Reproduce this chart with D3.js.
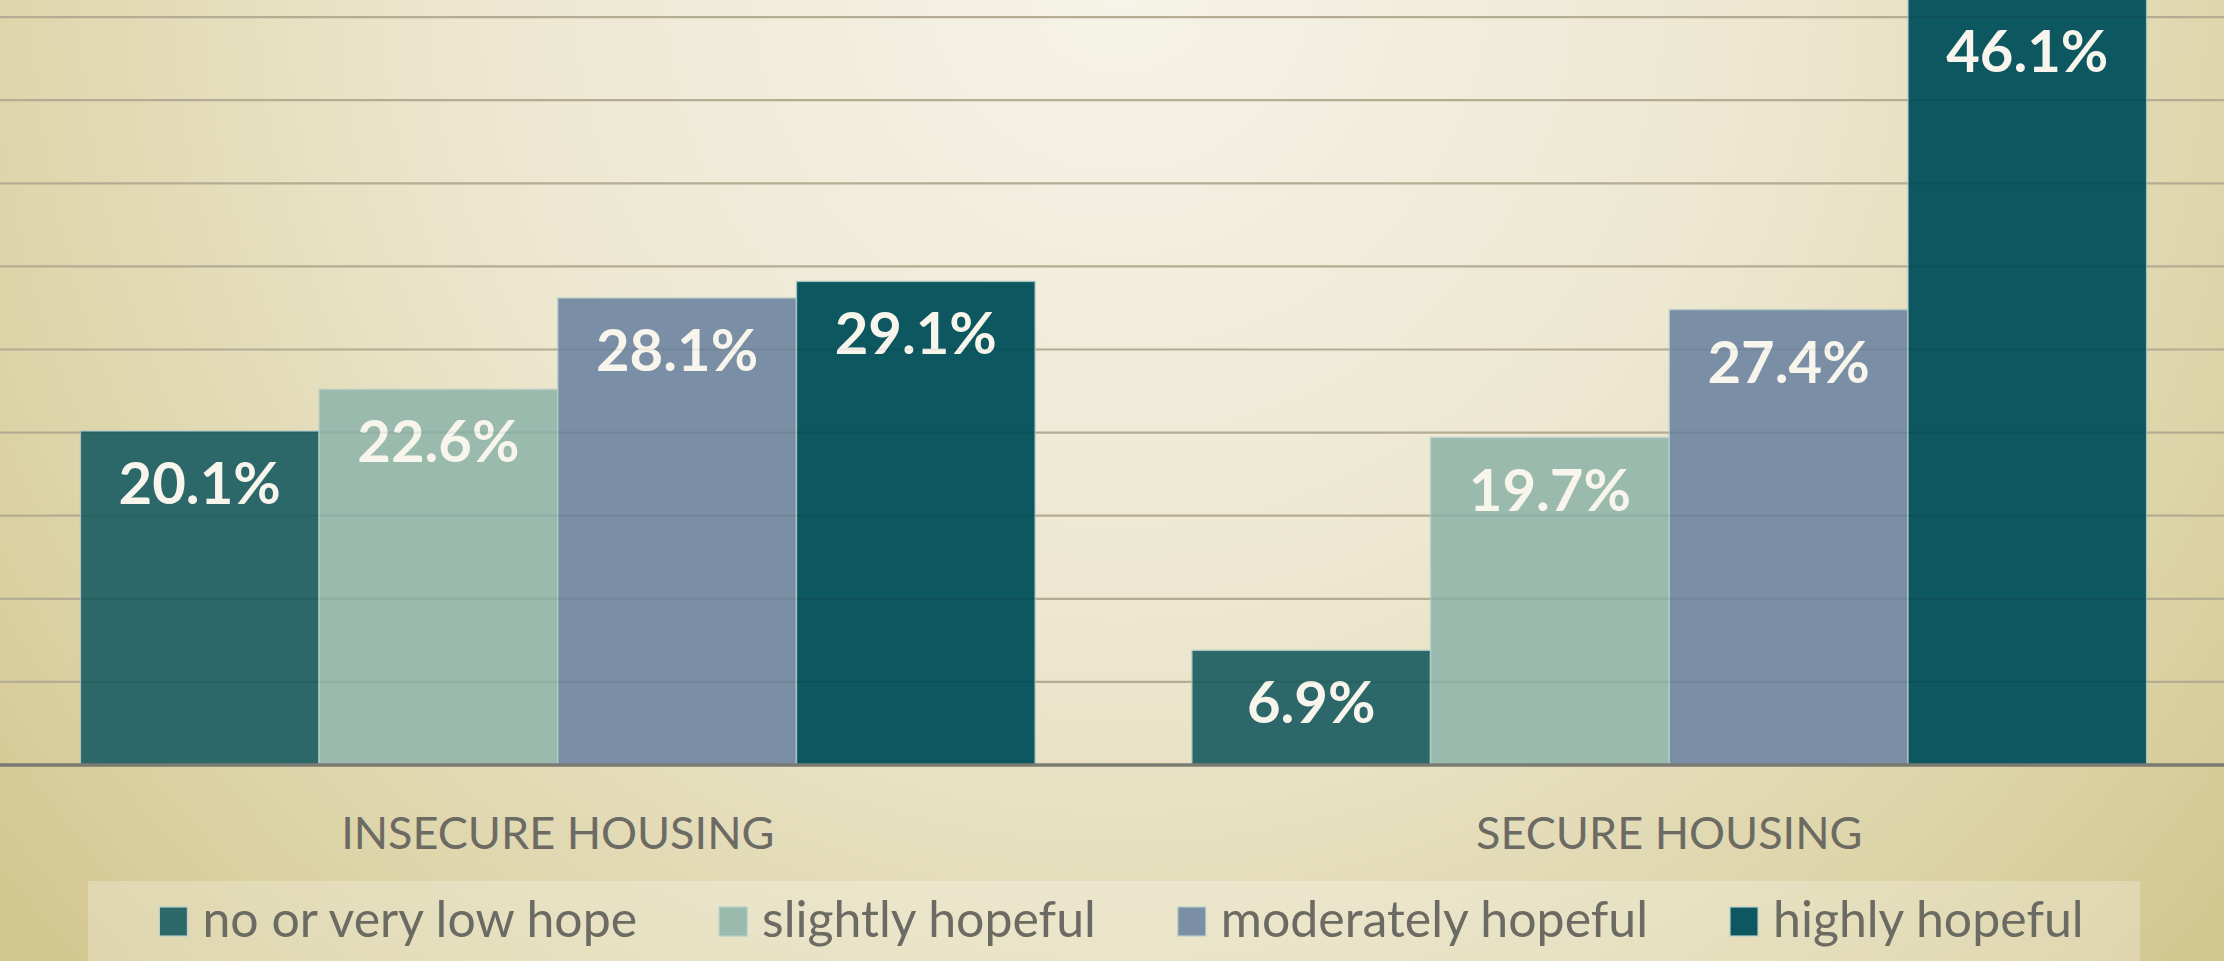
<!DOCTYPE html>
<html>
<head>
<meta charset="utf-8">
<script src="https://cdn.jsdelivr.net/npm/d3@7/dist/d3.min.js"></script>
<style>
  html, body { margin: 0; padding: 0; background: #e8e1c4; }
  svg { display: block; }
</style>
</head>
<body>
<svg id="chart" width="2224" height="961"></svg>
<script>
// ---- data ----
const categories = ["INSECURE HOUSING", "SECURE HOUSING"];
const seriesNames = ["no or very low hope", "slightly hopeful", "moderately hopeful", "highly hopeful"];
const noOrVeryLowHope = [20.1, 6.9];
const slightlyHopeful = [22.6, 19.7];
const moderatelyHopeful = [28.1, 27.4];
const highlyHopeful = [29.1, 46.1];
const gridTicks = [5, 10, 15, 20, 25, 30, 35, 40, 45];

const seriesValues = [noOrVeryLowHope, slightlyHopeful, moderatelyHopeful, highlyHopeful];
const colors = ["#2c6869", "#9abaae", "#7a8ea5", "#0d5760"];

const W = 2224, H = 961;
const svg = d3.select("#chart");

// background gradient
const defs = svg.append("defs");
const rg = defs.append("radialGradient").attr("id", "bg")
  .attr("gradientUnits", "userSpaceOnUse")
  .attr("cx", 1120).attr("cy", -20).attr("r", 1450);
rg.append("stop").attr("offset", 0).attr("stop-color", "#f6f3e8");
rg.append("stop").attr("offset", 0.45).attr("stop-color", "#ede7d0");
rg.append("stop").attr("offset", 0.8).attr("stop-color", "#ddd4a8");
rg.append("stop").attr("offset", 1).attr("stop-color", "#d3c790");
svg.append("rect").attr("width", W).attr("height", H).attr("fill", "url(#bg)");

// scales
const y = d3.scaleLinear().domain([0, 50]).range([765, -66]);
const x0 = d3.scaleBand().domain(categories).range([2, 2225]).paddingInner(0.141).paddingOuter(0.0705);
const x1 = d3.scaleBand().domain(seriesNames).range([0, x0.bandwidth()]).padding(0);

// gridlines
svg.append("g").selectAll("line").data(gridTicks).join("line")
  .attr("x1", 0).attr("x2", W)
  .attr("y1", d => y(d)).attr("y2", d => y(d))
  .attr("stroke", "#c0b89e").attr("stroke-width", 2.2);

// bars
const groups = svg.append("g").selectAll("g").data(categories).join("g")
  .attr("transform", d => `translate(${x0(d)},0)`);

groups.each(function(cat, ci) {
  const g = d3.select(this);
  const data = seriesNames.map((s, si) => ({ s, si, v: seriesValues[si][ci] }));
  g.selectAll("rect").data(data).join("rect")
    .attr("x", d => x1(d.s))
    .attr("y", d => y(d.v))
    .attr("width", x1.bandwidth())
    .attr("height", d => y(0) - y(d.v))
    .attr("fill", d => colors[d.si])
    .attr("stroke", "#b7cfca")
    .attr("stroke-opacity", 0.8)
    .attr("stroke-width", 1.5);
});

// faint gridlines showing through bars
svg.append("g").selectAll("line").data(gridTicks).join("line")
  .attr("x1", 0).attr("x2", W)
  .attr("y1", d => y(d)).attr("y2", d => y(d))
  .attr("stroke", "#000000").attr("stroke-opacity", 0.06).attr("stroke-width", 2.2);

groups.each(function(cat, ci) {
  const g = d3.select(this);
  const data = seriesNames.map((s, si) => ({ s, si, v: seriesValues[si][ci] }));
  g.selectAll("text").data(data).join("text")
    .attr("x", d => x1(d.s) + x1.bandwidth() / 2)
    .attr("y", d => y(d.v) + 73)
    .attr("text-anchor", "middle")
    .attr("font-family", "Lato, 'Open Sans', sans-serif")
    .attr("font-weight", 700)
    .attr("font-size", 58)
    .attr("fill", "#f8f5ec")
    .text(d => d.v.toFixed(1) + "%");
});

// baseline axis
svg.append("line").attr("x1", 0).attr("x2", W)
  .attr("y1", y(0)).attr("y2", y(0))
  .attr("stroke", "#7a7a72").attr("stroke-width", 3.5);

// category labels
svg.append("g").selectAll("text").data(categories).join("text")
  .attr("x", d => x0(d) + x0.bandwidth() / 2)
  .attr("y", 849)
  .attr("text-anchor", "middle")
  .attr("font-family", "Lato, 'Open Sans', sans-serif")
  .attr("font-size", 45)
  .attr("fill", "#6b6b63")
  .text(d => d);

// legend
svg.append("rect").attr("x", 88).attr("y", 881).attr("width", 2052).attr("height", 90)
  .attr("fill", "#ffffff").attr("fill-opacity", 0.25);

const leg = svg.append("g");
const items = leg.selectAll("g").data(seriesNames).join("g");
items.append("rect")
  .attr("x", 0).attr("y", 907).attr("width", 28).attr("height", 29)
  .attr("fill", (d, i) => colors[i])
  .attr("stroke", "#b7cfca").attr("stroke-width", 1.2);
items.append("text")
  .attr("x", 43).attr("y", 937)
  .attr("font-family", "Lato, 'Open Sans', sans-serif")
  .attr("font-size", 50)
  .attr("fill", "#6b6b63")
  .text(d => d);
const gap = 82;
let widths = [];
items.each(function() { widths.push(43 + d3.select(this).select("text").node().getComputedTextLength()); });
const total = d3.sum(widths) + gap * (widths.length - 1);
let cx = 1121.5 - total / 2;
items.each(function(d, i) {
  d3.select(this).attr("transform", `translate(${cx},0)`);
  cx += widths[i] + gap;
});
</script>
</body>
</html>
